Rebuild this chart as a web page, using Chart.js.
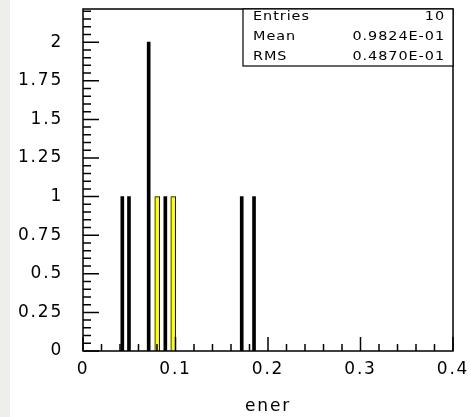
<!DOCTYPE html>
<html>
<head>
<meta charset="utf-8">
<script src="https://cdn.jsdelivr.net/npm/chart.js@4/dist/chart.umd.min.js"></script>
<style>
  html, body { margin: 0; padding: 0; background: #fff; }
  #wrap { width: 471px; height: 417px; position: relative; }
</style>
</head>
<body>
<div id="wrap"><canvas id="hist"></canvas></div>
<script>
// bin centres (ener) and entries per bin
const enerBins = [0.0425, 0.0497, 0.071, 0.089, 0.1716, 0.1849];
const enerCounts = [1, 1, 2, 1, 1, 1];
// highlighted bins, drawn filled
const markBins = [0.0803, 0.0976];
const markCounts = [1, 1];

const statNames = ['Entries', 'Mean', 'RMS'];
const statValues = ['10', '0.9824E-01', '0.4870E-01'];

const xTitle = 'ener';

const axisFont = { family: 'DejaVu Sans', size: 17 };

function isMajor(v, step) {
    const r = v / step;
    return Math.abs(r - Math.round(r)) < 1e-6;
}

// ticks inside the frame, plus the frame itself and the stats box
const frameTicks = {
    id: 'frameTicks',
    beforeDraw(chart) {
        const ctx = chart.ctx;
        ctx.save();
        ctx.fillStyle = '#fff';
        ctx.fillRect(0, 0, chart.width, chart.height);
        ctx.fillStyle = '#eeeeeb';
        ctx.fillRect(0, 0, 10, chart.height);
        ctx.restore();
        // wide lettering for the axis labels
        ctx.letterSpacing = '1.8px';
    },
    afterDraw(chart) {
        const ctx = chart.ctx;
        const a = chart.chartArea;
        const x = chart.scales.x;
        const y = chart.scales.y;
        ctx.save();
        ctx.strokeStyle = '#000';
        ctx.lineWidth = 1.5;
        ctx.beginPath();
        x.ticks.forEach(t => {
            const px = x.getPixelForValue(t.value);
            const len = isMajor(t.value, 0.1) ? 14 : 7;
            ctx.moveTo(px, a.bottom);
            ctx.lineTo(px, a.bottom - len);
        });
        y.ticks.forEach(t => {
            const py = y.getPixelForValue(t.value);
            const len = isMajor(t.value, 0.25) ? 16 : 8;
            ctx.moveTo(a.left, py);
            ctx.lineTo(a.left + len, py);
        });
        ctx.stroke();
        ctx.strokeRect(a.left, a.top, a.right - a.left, a.bottom - a.top);

        // stats box
        const bx = 243, bw = a.right - bx, bh = 57;
        ctx.fillStyle = '#fff';
        ctx.fillRect(bx, a.top, bw, bh);
        ctx.lineWidth = 1.2;
        ctx.strokeRect(bx, a.top, bw, bh);
        ctx.fillStyle = '#000';
        ctx.font = '12px "DejaVu Sans"';
        ctx.letterSpacing = '0.8px';
        ctx.textBaseline = 'middle';
        const sx = 1.2;
        statNames.forEach((n, i) => {
            const ty = a.top + 8 + i * 20;
            ctx.save();
            ctx.translate(bx + 10, ty);
            ctx.scale(sx, 1);
            ctx.textAlign = 'left';
            ctx.fillText(n, 0, 0);
            ctx.restore();
            ctx.save();
            ctx.translate(a.right - 8, ty);
            ctx.scale(sx, 1);
            ctx.textAlign = 'right';
            ctx.fillText(statValues[i], 0, 0);
            ctx.restore();
        });
        ctx.restore();
    }
};

new Chart(document.getElementById('hist'), {
    type: 'bar',
    data: {
        datasets: [{
            label: 'ener',
            data: enerBins.map((b, i) => ({ x: b, y: enerCounts[i] })),
            backgroundColor: '#000',
            borderWidth: 0,
            barThickness: 3
        }, {
            label: 'selected',
            data: markBins.map((b, i) => ({ x: b, y: markCounts[i] })),
            backgroundColor: '#ffff00',
            borderColor: '#000',
            borderWidth: 1,
            borderSkipped: 'bottom',
            barThickness: 5
        }]
    },
    options: {
        responsive: true,
        maintainAspectRatio: false,
        animation: false,
        devicePixelRatio: 1,
        layout: { padding: { top: 9, right: 18, left: 0, bottom: 0 } },
        plugins: {
            legend: { display: false },
            tooltip: { enabled: false }
        },
        datasets: { bar: { grouped: false } },
        scales: {
            x: {
                type: 'linear',
                min: 0,
                max: 0.4,
                offset: false,
                grid: { display: false, drawTicks: false },
                border: { display: false },
                ticks: {
                    stepSize: 0.02,
                    autoSkip: false,
                    maxRotation: 0,
                    padding: 8,
                    color: '#000',
                    font: axisFont,
                    callback: function(v) {
                        return isMajor(v, 0.1) ? String(+v.toFixed(2)) : '';
                    }
                },
                title: {
                    display: true,
                    text: xTitle,
                    color: '#000',
                    font: axisFont,
                    padding: { top: 0, bottom: 0 }
                },
                afterFit: function(s) {
                    s.height = 66;
                    s.paddingLeft = 0;
                    s.paddingRight = 0;
                }
            },
            y: {
                min: 0,
                max: 2.215,
                grid: { display: false, drawTicks: false },
                border: { display: false },
                ticks: {
                    stepSize: 0.05,
                    includeBounds: false,
                    autoSkip: false,
                    padding: 20,
                    color: '#000',
                    font: axisFont,
                    callback: function(v) {
                        return isMajor(v, 0.25) ? String(+v.toFixed(2)) : '';
                    }
                },
                afterFit: function(s) {
                    s.width = 83;
                    s.paddingTop = 0;
                    s.paddingBottom = 0;
                }
            }
        }
    },
    plugins: [frameTicks]
});
</script>
</body>
</html>
